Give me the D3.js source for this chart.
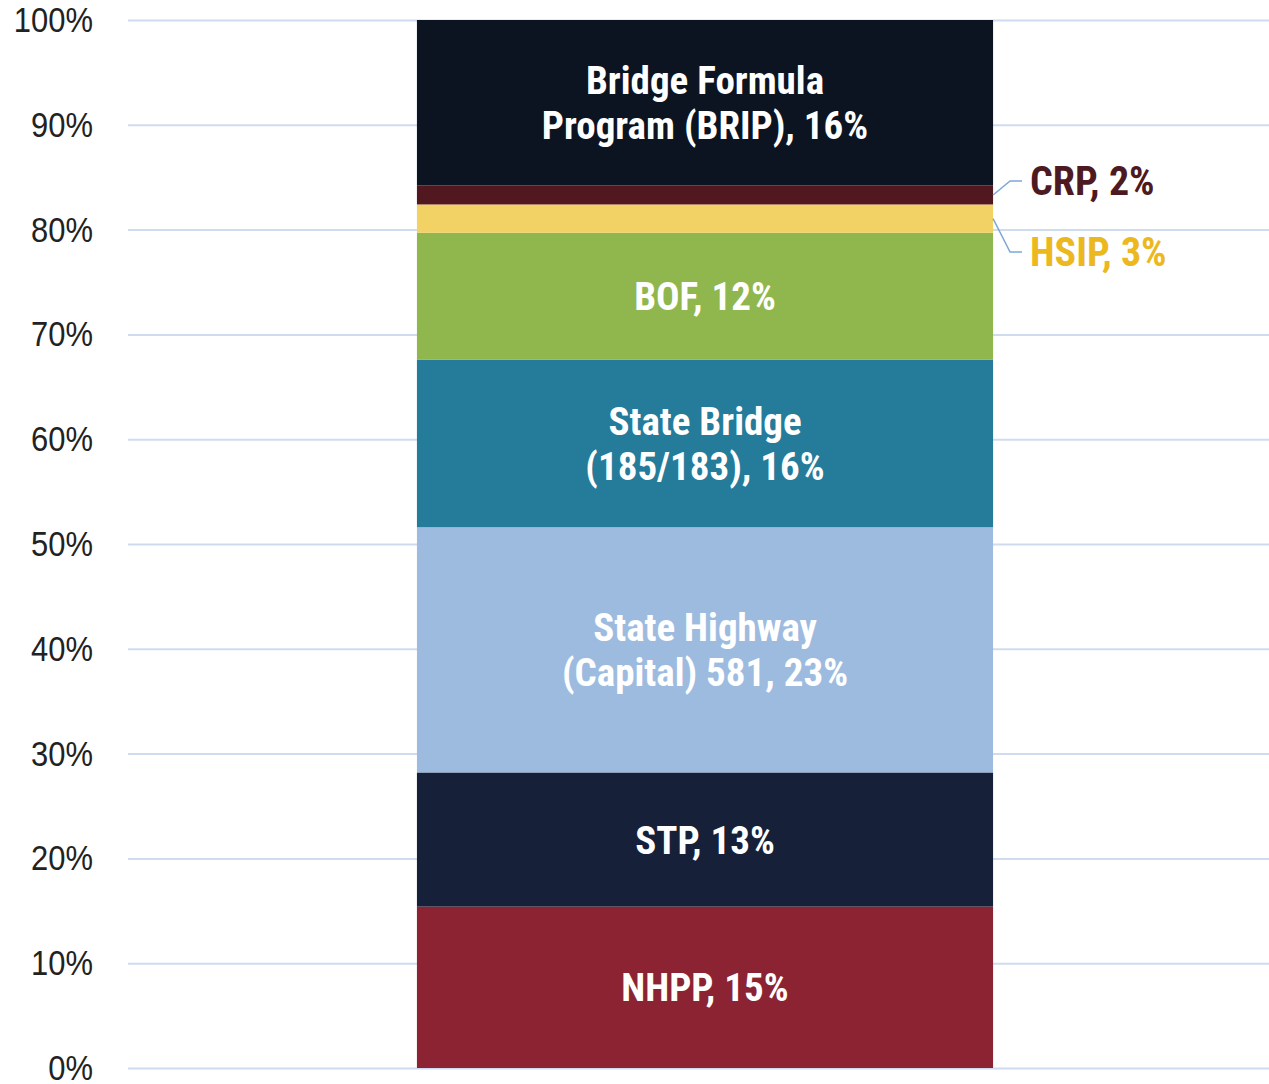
<!DOCTYPE html>
<html>
<head>
<meta charset="utf-8">
<script src="https://cdn.jsdelivr.net/npm/d3@7"></script>
<style>
  body { margin: 0; background: #fff; }
  svg text { font-family: "Roboto Condensed", "Liberation Sans Narrow", "DejaVu Sans Condensed", sans-serif; }
</style>
</head>
<body>
<svg id="chart" width="1269" height="1084"></svg>
<script>
// segment order is bottom to top
const programs = ["NHPP", "STP", "State Highway", "State Bridge", "BOF", "HSIP", "CRP", "BRIP"];
const shares = [15.4, 12.8, 23.4, 16.0, 12.1, 2.7, 1.8, 15.8];
const labels = [
  ["NHPP, 15%"],
  ["STP, 13%"],
  ["State Highway", "(Capital) 581, 23%"],
  ["State Bridge", "(185/183), 16%"],
  ["BOF, 12%"],
  ["HSIP, 3%"],
  ["CRP, 2%"],
  ["Bridge Formula", "Program (BRIP), 16%"]
];
const colors = ["#8b2332", "#162039", "#9dbbdf", "#247b9a", "#8fb74e", "#f2d264", "#521820", "#0d1421"];
const outsideColors = { HSIP: "#ebb81f", CRP: "#4e1a21" };
const yTicks = [0, 10, 20, 30, 40, 50, 60, 70, 80, 90, 100];

const width = 1269;
const height = 1084;
const marginTop = 20;
const marginBottom = 16;
const marginLeft = 128;
const narrow = 0.86; // squeeze for the tick font

const svg = d3.select("#chart");

const y = d3.scaleLinear().domain([0, 100]).range([height - marginBottom, marginTop]);
const x = d3.scaleBand().domain(["all"]).range([marginLeft, 1282]).padding(0.334);

// gridlines + tick labels
const yAxis = svg.append("g")
  .attr("transform", `translate(${marginLeft},0)`)
  .call(d3.axisLeft(y).tickValues(yTicks).tickFormat(d => d + "%").tickSize(0).tickPadding(35));
yAxis.select(".domain").remove();
yAxis.selectAll(".tick line").clone()
  .attr("x2", width - marginLeft)
  .attr("stroke", "#cfdcf0")
  .attr("stroke-width", 2);
yAxis.selectAll(".tick text")
  .attr("x", -35 / narrow)
  .attr("transform", `scale(${narrow},1)`)
  .attr("fill", "#222")
  .style("font-size", "36px")
  .style("font-family", "'Liberation Sans', Arial, sans-serif");

// stacked segments
let acc = 0;
const segs = programs.map((p, i) => {
  const s = { name: p, y0: acc, y1: acc + shares[i], color: colors[i], lines: labels[i] };
  acc += shares[i];
  return s;
});

svg.append("g").selectAll("rect")
  .data(segs)
  .join("rect")
  .attr("x", x("all"))
  .attr("width", x.bandwidth())
  .attr("y", d => y(d.y1))
  .attr("height", d => y(d.y0) - y(d.y1))
  .attr("fill", d => d.color);

const cx = x("all") + x.bandwidth() / 2;
const lineH = 45;

// inside labels
const inside = segs.filter(d => !(d.name in outsideColors));
inside.forEach(d => {
  const mid = y((d.y0 + d.y1) / 2);
  const n = d.lines.length;
  d.lines.forEach((ln, j) => {
    svg.append("text")
      .attr("x", cx)
      .attr("y", mid + (j - (n - 1) / 2) * lineH)
      .attr("dy", "0.36em")
      .attr("text-anchor", "middle")
      .attr("fill", "#fff")
      .style("font-size", "39px")
      .style("font-weight", "bold")
      .text(ln);
  });
});

// outside labels with leader lines
const xRight = x("all") + x.bandwidth();
const outside = [
  { name: "CRP", labelY: 181 },
  { name: "HSIP", labelY: 252 }
];
outside.forEach(o => {
  const d = segs.find(s => s.name === o.name);
  const mid = y((d.y0 + d.y1) / 2);
  svg.append("path")
    .attr("d", d3.line()([[xRight, mid], [xRight + 17, o.labelY], [xRight + 29, o.labelY]]))
    .attr("fill", "none")
    .attr("stroke", "#7fa6d8")
    .attr("stroke-width", 1.5);
  svg.append("text")
    .attr("x", xRight + 37)
    .attr("y", o.labelY)
    .attr("dy", "0.36em")
    .attr("fill", outsideColors[o.name])
    .style("font-size", "40px")
    .style("font-weight", "bold")
    .text(d.lines[0]);
});
</script>
</body>
</html>
